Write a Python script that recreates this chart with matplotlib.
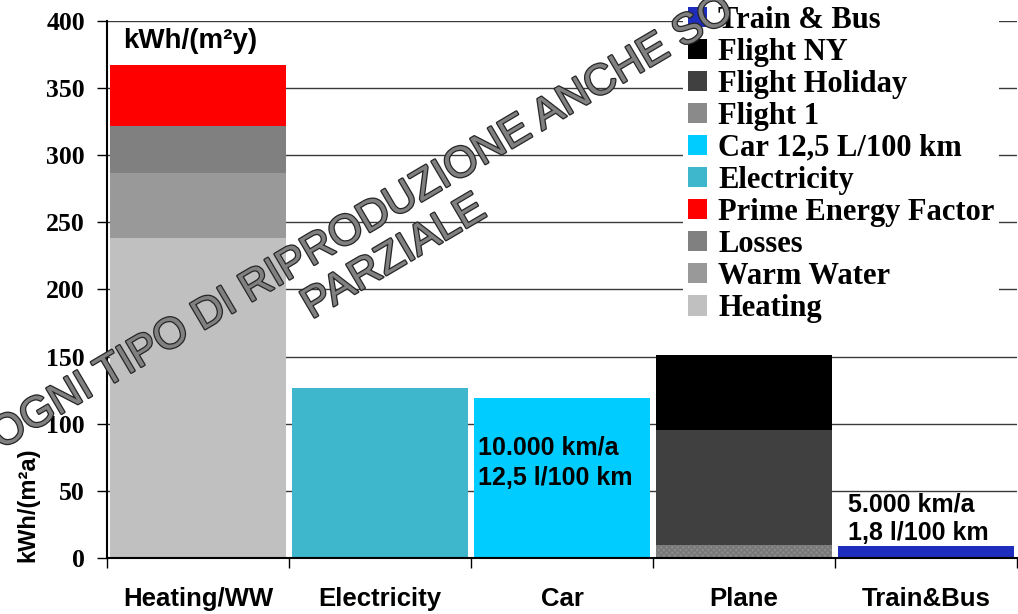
import numpy as np
import matplotlib
matplotlib.use("Agg")
import matplotlib.pyplot as plt
from matplotlib.patches import Patch
from matplotlib.font_manager import FontProperties
import matplotlib.patheffects as pe

# ---------------- data ----------------
categories = ["Heating/WW", "Electricity", "Car", "Plane", "Train&Bus"]

heating        = [238, 0, 0, 0, 0]
warm_water     = [49, 0, 0, 0, 0]
losses         = [35, 0, 0, 0, 0]
prime_energy   = [45, 0, 0, 0, 0]
electricity    = [0, 127, 0, 0, 0]
car            = [0, 0, 119, 0, 0]
flight_1       = [0, 0, 0, 10, 0]
flight_holiday = [0, 0, 0, 85, 0]
flight_ny      = [0, 0, 0, 56, 0]
train_bus      = [0, 0, 0, 0, 8.7]

series_names = ["Heating", "Warm Water", "Losses", "Prime Energy Factor",
                "Electricity", "Car 12,5 L/100 km", "Flight 1",
                "Flight Holiday", "Flight NY", "Train & Bus"]
series_values = [heating, warm_water, losses, prime_energy, electricity,
                 car, flight_1, flight_holiday, flight_ny, train_bus]
series_colors = ["#C0C0C0", "#999999", "#808080", "#FF0000", "#3EB7CD",
                 "#00CCFF", "#8A8A8A", "#404040", "#000000", "#1E2DBE"]

yticks = [0, 50, 100, 150, 200, 250, 300, 350, 400]

# ---------------- figure ----------------
W, H = 1018, 614
fig = plt.figure(figsize=(W / 100, H / 100), dpi=100)
ax = fig.add_axes([107 / W, 1 - 558 / H, (1017 - 107) / W, (558 - 21) / H])

x = np.arange(len(categories))
bottom = np.zeros(len(categories))
for name, vals, col in zip(series_names, series_values, series_colors):
    vals = np.array(vals, dtype=float)
    kw = {}
    if name == "Flight 1":
        kw = dict(hatch="xxxxxx", edgecolor="#777777", linewidth=0)
    ax.bar(x, vals, bottom=bottom, width=0.97, color=col, zorder=2, **kw)
    bottom += vals

ax.set_xlim(-0.5, len(categories) - 0.5)
ax.set_ylim(0, 400)

ax.set_yticks(yticks)
serif_b = FontProperties(family="Liberation Serif", weight="bold", size=18.5)
sans_b = dict(family="Liberation Sans", weight="bold")
ax.set_yticklabels([str(t) for t in yticks], fontproperties=serif_b)
ax.tick_params(axis="y", length=7, width=1, direction="out", pad=9, color="black")

ax.set_xticks(x)
ax.set_xticklabels(categories, fontdict=dict(size=18.5, **sans_b))
ax.tick_params(axis="x", which="major", length=0, pad=21)
ax.set_xticks(np.arange(-0.5, len(categories)), minor=True)
ax.tick_params(axis="x", which="minor", length=7, width=1, direction="out", color="black")

ax.yaxis.grid(True, color="#3a3a3a", linewidth=1.0, zorder=0)
ax.set_axisbelow(True)
for s in ["top", "right"]:
    ax.spines[s].set_visible(False)
ax.spines["left"].set_linewidth(1.5)
ax.spines["bottom"].set_linewidth(1.5)

# y label (placed low, as in the reference)
fig.text(28 / W, 1 - 505 / H, "kWh/(m²a)", rotation=90, ha="center", va="center",
         size=17, **sans_b)

# annotations
ax.text(-0.41, 385, "kWh/(m²y)", ha="left", va="center", size=20, zorder=5, **sans_b)
ax.text(1.54, 82.5, "10.000 km/a", ha="left", va="center", size=18, zorder=5, **sans_b)
ax.text(1.54, 59.5, "12,5 l/100 km", ha="left", va="center", size=18, zorder=5, **sans_b)
ax.text(3.57, 39.5, "5.000 km/a", ha="left", va="center", size=18, zorder=5, **sans_b)
ax.text(3.57, 18.5, "1,8 l/100 km", ha="left", va="center", size=18, zorder=5, **sans_b)

# legend (reverse order)
handles = [Patch(facecolor=c, edgecolor="none") for c in series_colors][::-1]
labels = series_names[::-1]
leg = fig.legend(handles, labels, loc="upper left",
                 bbox_to_anchor=(683 / W, 1.0 - 1 / H), bbox_transform=fig.transFigure,
                 prop=FontProperties(family="Liberation Serif", weight="bold", size=22),
                 frameon=True, facecolor="white", edgecolor="none", framealpha=1,
                 borderpad=0.15, labelspacing=0.10, handlelength=0.65,
                 handleheight=0.65, handletextpad=0.35, borderaxespad=0)
leg.set_zorder(6)

# watermark
wm_effects = [pe.Stroke(linewidth=1.8, foreground="#262626"), pe.Normal()]
fig.text(362 / W, 1 - 224 / H, "OGNI TIPO DI RIPRODUZIONE ANCHE SO", rotation=30.5,
         rotation_mode="anchor", ha="center", va="center", size=31,
         family="Liberation Sans", color="#808080", path_effects=wm_effects, zorder=10)
fig.text(394 / W, 1 - 258 / H, "PARZIALE", rotation=30.5,
         rotation_mode="anchor", ha="center", va="center", size=31,
         family="Liberation Sans", color="#808080", path_effects=wm_effects, zorder=10)

fig.savefig("out.png", dpi=100)
